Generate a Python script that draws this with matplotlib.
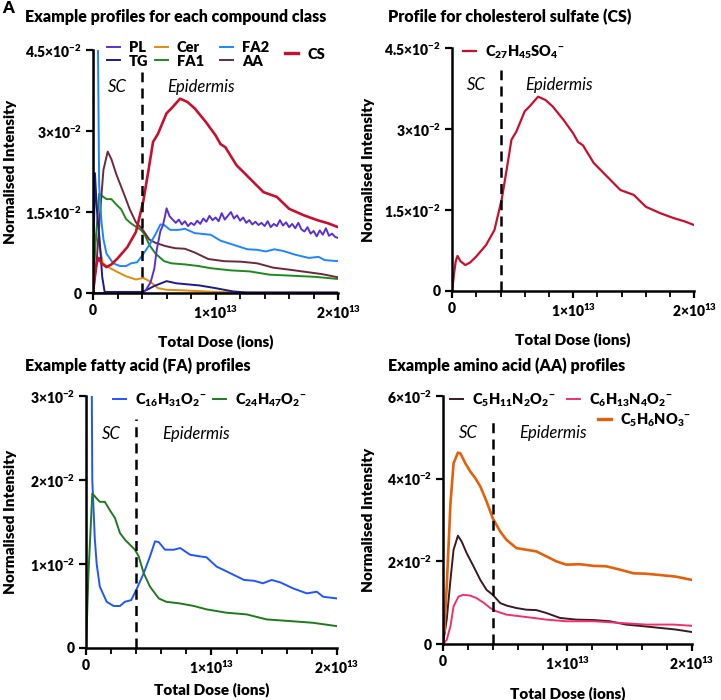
import numpy as np
import matplotlib
matplotlib.use("Agg")
import matplotlib.pyplot as plt
from matplotlib.lines import Line2D
from matplotlib.legend import Legend
from matplotlib.ticker import MultipleLocator

plt.rcParams['font.family'] = ['Lato', 'DejaVu Sans']
plt.rcParams['font.weight'] = 'bold'
plt.rcParams['axes.labelweight'] = 'bold'
plt.rcParams['mathtext.fontset'] = 'custom'
plt.rcParams['mathtext.rm'] = 'Lato:bold'
plt.rcParams['mathtext.bf'] = 'Lato:bold'
plt.rcParams['mathtext.it'] = 'Lato:italic:bold'
plt.rcParams['mathtext.default'] = 'regular'

# x in units of 1e13 ions, y in units of 1e-2
cs_x = [0, 0.015, 0.03, 0.045, 0.07, 0.11, 0.15, 0.2, 0.28, 0.35, 0.41, 0.45, 0.49, 0.53, 0.6, 0.64,
        0.71, 0.77, 0.83, 0.92, 1.0, 1.04, 1.08, 1.17, 1.28, 1.39, 1.5, 1.6, 1.72, 1.83, 1.92, 2.0]
cs_y = [0, 0.3, 0.55, 0.65, 0.55, 0.48, 0.53, 0.64, 0.85, 1.13, 1.7, 2.24, 2.8, 2.95, 3.33, 3.42,
        3.6, 3.54, 3.42, 3.17, 2.92, 2.76, 2.7, 2.37, 2.12, 1.87, 1.78, 1.56, 1.44, 1.35, 1.29, 1.22]

pl_x = [0, 0.4, 0.43, 0.47, 0.5, 0.52, 0.55, 0.57, 0.59,
        0.6, 0.625, 0.65, 0.675, 0.7, 0.725, 0.75, 0.775, 0.8, 0.825, 0.85, 0.875, 0.9, 0.925, 0.95,
        0.975, 1.0, 1.025, 1.05, 1.075, 1.1, 1.125, 1.15, 1.175, 1.2, 1.225, 1.25, 1.275, 1.3, 1.325,
        1.35, 1.375, 1.4, 1.425, 1.45, 1.475, 1.5, 1.525, 1.55, 1.575, 1.6, 1.625, 1.65, 1.675, 1.7,
        1.725, 1.75, 1.775, 1.8, 1.825, 1.85, 1.875, 1.9, 1.925, 1.95, 1.975, 2.0]
pl_y = [0, 0, 0.05, 0.2, 0.45, 0.8, 1.15, 1.25, 1.45,
        1.57, 1.42, 1.36, 1.30, 1.36, 1.27, 1.33, 1.24, 1.30, 1.26, 1.34, 1.28, 1.38, 1.32, 1.43,
        1.35, 1.40, 1.33, 1.48, 1.36, 1.43, 1.50, 1.38, 1.44, 1.34, 1.40, 1.30, 1.35, 1.27, 1.32,
        1.26, 1.30, 1.24, 1.33, 1.22, 1.28, 1.24, 1.35, 1.25, 1.31, 1.22, 1.28, 1.20, 1.30, 1.18,
        1.14, 1.22, 1.10, 1.15, 1.05, 1.16, 1.08, 1.20, 1.06, 1.10, 1.04, 1.02]

tg_x = [0, 0.008, 0.016, 0.03, 0.055, 0.075, 0.095, 0.4, 0.44, 0.5, 0.6, 0.68, 0.87, 1.0, 1.14, 1.25, 2.0]
tg_y = [0, 1.2, 2.22, 1.6, 0.95, 0.3, 0.02, 0.02, 0.06, 0.13, 0.22, 0.18, 0.14, 0.09, 0.03, 0.01, 0.01]

cer_x = [0, 0.015, 0.03, 0.054, 0.08, 0.14, 0.19, 0.27, 0.35, 0.41, 0.46, 0.53, 0.6, 0.73, 1.0, 1.3, 2.0]
cer_y = [0, 1.1, 1.0, 0.86, 0.55, 0.46, 0.4, 0.31, 0.25, 0.28, 0.22, 0.09, 0.06, 0.05, 0.02, 0.01, 0.01]

fa1_x = [0, 0.02, 0.05, 0.085, 0.11, 0.15, 0.19, 0.23, 0.27, 0.31, 0.35, 0.39, 0.42, 0.46, 0.51, 0.58,
         0.64, 0.75, 0.86, 0.96, 1.12, 1.28, 1.44, 1.63, 1.81, 2.0]
fa1_y = [0, 0.9, 1.84, 1.78, 1.74, 1.74, 1.64, 1.55, 1.37, 1.29, 1.23, 1.17, 1.09, 0.89, 0.73, 0.59,
         0.55, 0.53, 0.5, 0.46, 0.42, 0.4, 0.34, 0.32, 0.3, 0.26]

fa2_x = [0, 0.006, 0.035, 0.05, 0.07, 0.085, 0.11, 0.165, 0.22, 0.27, 0.31, 0.36, 0.4, 0.46, 0.51, 0.55,
         0.58, 0.63, 0.7, 0.75, 0.83, 0.91, 0.96, 1.04, 1.15, 1.26, 1.34, 1.41, 1.48, 1.55, 1.65, 1.76,
         1.84, 1.89, 2.0]
fa2_y = [0, 6.0, 6.0, 2.0, 1.3, 1.0, 0.73, 0.55, 0.5, 0.5, 0.55, 0.57, 0.69, 0.89, 1.09, 1.27,
         1.26, 1.17, 1.17, 1.19, 1.11, 1.09, 1.08, 0.97, 0.89, 0.81, 0.8, 0.77, 0.81, 0.78, 0.71, 0.65,
         0.67, 0.61, 0.59]

aa_x = [0, 0.03, 0.06, 0.085, 0.12, 0.15, 0.19, 0.245, 0.3, 0.35, 0.4, 0.46, 0.51, 0.59, 0.67, 0.75,
        0.83, 0.94, 1.07, 1.21, 1.34, 1.47, 1.61, 1.74, 1.87, 2.0]
aa_y = [0, 0.59, 1.55, 2.28, 2.62, 2.48, 2.2, 1.88, 1.55, 1.31, 1.19, 0.99, 0.93, 0.87, 0.83, 0.82,
        0.75, 0.63, 0.59, 0.58, 0.55, 0.47, 0.43, 0.39, 0.35, 0.29]

arg_x = [0, 0.03, 0.06, 0.085, 0.125, 0.165, 0.22, 0.27, 0.33, 0.38, 0.43, 0.51, 0.62, 0.73, 0.83,
         0.99, 1.21, 1.42, 1.63, 1.85, 2.0]
arg_y = [0, 0.1, 0.43, 0.91, 1.15, 1.19, 1.17, 1.11, 0.99, 0.87, 0.79, 0.71, 0.67, 0.63, 0.59,
         0.55, 0.55, 0.51, 0.47, 0.47, 0.44]

pyr_x = [0, 0.01, 0.03, 0.06, 0.085, 0.12, 0.14, 0.18, 0.22, 0.26, 0.3, 0.35, 0.4, 0.46, 0.51, 0.59,
         0.67, 0.75, 0.83, 0.91, 0.99, 1.1, 1.21, 1.31, 1.42, 1.53, 1.63, 1.74, 1.87, 2.0]
pyr_y = [0.75, 0.3, 1.39, 3.4, 4.37, 4.63, 4.61, 4.37, 4.17, 4.01, 3.81, 3.45, 3.04, 2.72, 2.52, 2.32,
         2.28, 2.24, 2.12, 2.0, 1.92, 1.93, 1.89, 1.88, 1.8, 1.71, 1.7, 1.67, 1.63, 1.55]

boundary = 0.4

c_pl = '#5B30D2'
c_tg = '#1C1A8E'
c_cer = '#E38A0C'
c_fa1 = '#1E8A1E'
c_fa2 = '#1C86FF'
c_aa = '#6A2A3C'
c_cs = '#C8102E'
c_c16 = '#1F55FF'
c_c24 = '#1F7A1F'
c_lys = '#3A1A24'
c_arg = '#F0306A'
c_pyr = '#E4600A'

TICK_FS = 10
LAB_FS = 11
LEG_FS = 10.5
HEAVY = 'heavy'


def sc(v, f):
    return np.array(v) * f


def style(ax, ymax, yticks, ylabels, ylab_x, xlab_y):
    ax.set_xlim(0, 2e13)
    ax.set_ylim(0, ymax)
    for s in ['top', 'right']:
        ax.spines[s].set_visible(False)
    for s in ['left', 'bottom']:
        ax.spines[s].set_linewidth(1.8)
    ax.set_xticks([0, 1e13, 2e13])
    ax.set_xticklabels(['0', r'1×10$^{13}$', r'2×10$^{13}$'], fontweight=HEAVY, fontsize=TICK_FS)
    ax.xaxis.set_minor_locator(MultipleLocator(0.2e13))
    ax.set_yticks(yticks)
    ax.set_yticklabels(ylabels, fontweight=HEAVY, fontsize=TICK_FS)
    ax.tick_params(which='major', direction='out', length=5, width=1.6, pad=3)
    ax.tick_params(which='minor', direction='out', length=4, width=1.3)
    ax.axvline(boundary * 1e13, ymin=0, ymax=0.91, color='black', ls=(0, (4, 2.5)), lw=1.8)
    ax.text(0.2e13, 0.85, 'SC', transform=ax.get_xaxis_transform(), style='italic',
            fontweight='normal', fontsize=12, ha='center', va='center')
    ax.text(0.88e13, 0.85, 'Epidermis', transform=ax.get_xaxis_transform(), style='italic',
            fontweight='normal', fontsize=12, ha='center', va='center')
    ax.set_xlabel('Total Dose (ions)', fontsize=LAB_FS, fontweight=HEAVY)
    ax.set_ylabel('Normalised Intensity', fontsize=LAB_FS, fontweight=HEAVY)
    ax.yaxis.set_label_coords(ylab_x, 0.5)
    ax.xaxis.set_label_coords(0.5, xlab_y)


def entry(ax, color, label, x, y, lw=1.4):
    leg = Legend(ax, [Line2D([], [], color=color, lw=lw)], [label], frameon=False,
                 loc='center left', bbox_to_anchor=(x, y),
                 prop={'size': LEG_FS, 'weight': HEAVY},
                 handlelength=0.9, handletextpad=0.6, borderpad=0, borderaxespad=0)
    ax.add_artist(leg)


fig = plt.figure(figsize=(7.21, 7.0), dpi=100)
axA = fig.add_axes([0.129, 0.5814, 0.340, 0.347])
axB = fig.add_axes([0.627, 0.5843, 0.336, 0.347])
axC = fig.add_axes([0.1193, 0.0743, 0.348, 0.36])
axD = fig.add_axes([0.6144, 0.08, 0.3454, 0.3543])

yl45 = ['0', r'1.5×10$^{-2}$', r'3×10$^{-2}$', r'4.5×10$^{-2}$']

# A
lw = 1.4
axA.plot(sc(cer_x, 1e13), sc(cer_y, 1e-2), color=c_cer, lw=lw)
axA.plot(sc(fa1_x, 1e13), sc(fa1_y, 1e-2), color=c_fa1, lw=lw)
axA.plot(sc(aa_x, 1e13), sc(aa_y, 1e-2), color=c_aa, lw=lw)
axA.plot(sc(fa2_x, 1e13), sc(fa2_y, 1e-2), color=c_fa2, lw=lw)
axA.plot(sc(tg_x, 1e13), sc(tg_y, 1e-2), color=c_tg, lw=lw)
axA.plot(sc(pl_x, 1e13), sc(pl_y, 1e-2), color=c_pl, lw=lw)
axA.plot(sc(cs_x, 1e13), sc(cs_y, 1e-2), color=c_cs, lw=1.9)
style(axA, 0.045, [0, 0.015, 0.03, 0.045], yl45, -0.31, -0.17)
entry(axA, c_pl, 'PL', 0.057, 1.012)
entry(axA, c_tg, 'TG', 0.057, 0.955)
entry(axA, c_cer, 'Cer', 0.253, 1.012)
entry(axA, c_fa1, 'FA1', 0.253, 0.955)
entry(axA, c_fa2, 'FA2', 0.518, 1.012)
entry(axA, c_aa, 'AA', 0.518, 0.955)
entry(axA, c_cs, 'CS', 0.784, 0.984, lw=2.4)

# B
axB.plot(sc(cs_x, 1e13), sc(cs_y, 1e-2), color=c_cs, lw=1.6)
style(axB, 0.045, [0, 0.015, 0.03, 0.045], yl45, -0.318, -0.17)
entry(axB, c_cs, r'C$_{27}$H$_{45}$SO$_4$$^{-}$', 0.045, 0.984, lw=1.6)

# C
axC.plot(sc(fa2_x, 1e13), sc(fa2_y, 1e-2), color=c_c16, lw=1.4)
axC.plot(sc(fa1_x, 1e13), sc(fa1_y, 1e-2), color=c_c24, lw=1.4)
style(axC, 0.03, [0, 0.01, 0.02, 0.03], ['0', r'1×10$^{-2}$', r'2×10$^{-2}$', r'3×10$^{-2}$'],
      -0.275, -0.135)
entry(axC, c_c16, r'C$_{16}$H$_{31}$O$_2$$^{-}$', 0.108, 0.984)
entry(axC, c_c24, r'C$_{24}$H$_{47}$O$_2$$^{-}$', 0.506, 0.984)

# D
axD.plot(sc(aa_x, 1e13), sc(aa_y, 1e-2), color=c_lys, lw=1.4)
axD.plot(sc(arg_x, 1e13), sc(arg_y, 1e-2), color=c_arg, lw=1.4)
axD.plot(sc(pyr_x, 1e13), sc(pyr_y, 1e-2), color=c_pyr, lw=1.9)
style(axD, 0.06, [0, 0.02, 0.04, 0.06], ['0', r'2×10$^{-2}$', r'4×10$^{-2}$', r'6×10$^{-2}$'],
      -0.273, -0.17)
entry(axD, c_lys, r'C$_5$H$_{11}$N$_2$O$_2$$^{-}$', 0.028, 0.984)
entry(axD, c_arg, r'C$_6$H$_{13}$N$_4$O$_2$$^{-}$', 0.498, 0.984)
entry(axD, c_pyr, r'C$_5$H$_6$NO$_3$$^{-}$', 0.622, 0.903, lw=2.4)

for y, x, t in [(17, 25, 'Example profiles for each compound class'),
                (17, 388, 'Profile for cholesterol sulfate (CS)'),
                (366, 25, 'Example fatty acid (FA) profiles'),
                (366, 388, 'Example amino acid (AA) profiles')]:
    fig.text(x / 721, 1 - y / 700, t, fontsize=11.5, fontweight=HEAVY, va='center', ha='left')
fig.text(2 / 721, 1 - 8 / 700, 'A', fontsize=12, fontweight=HEAVY, va='center', ha='left')

fig.savefig('out.png', dpi=100)
